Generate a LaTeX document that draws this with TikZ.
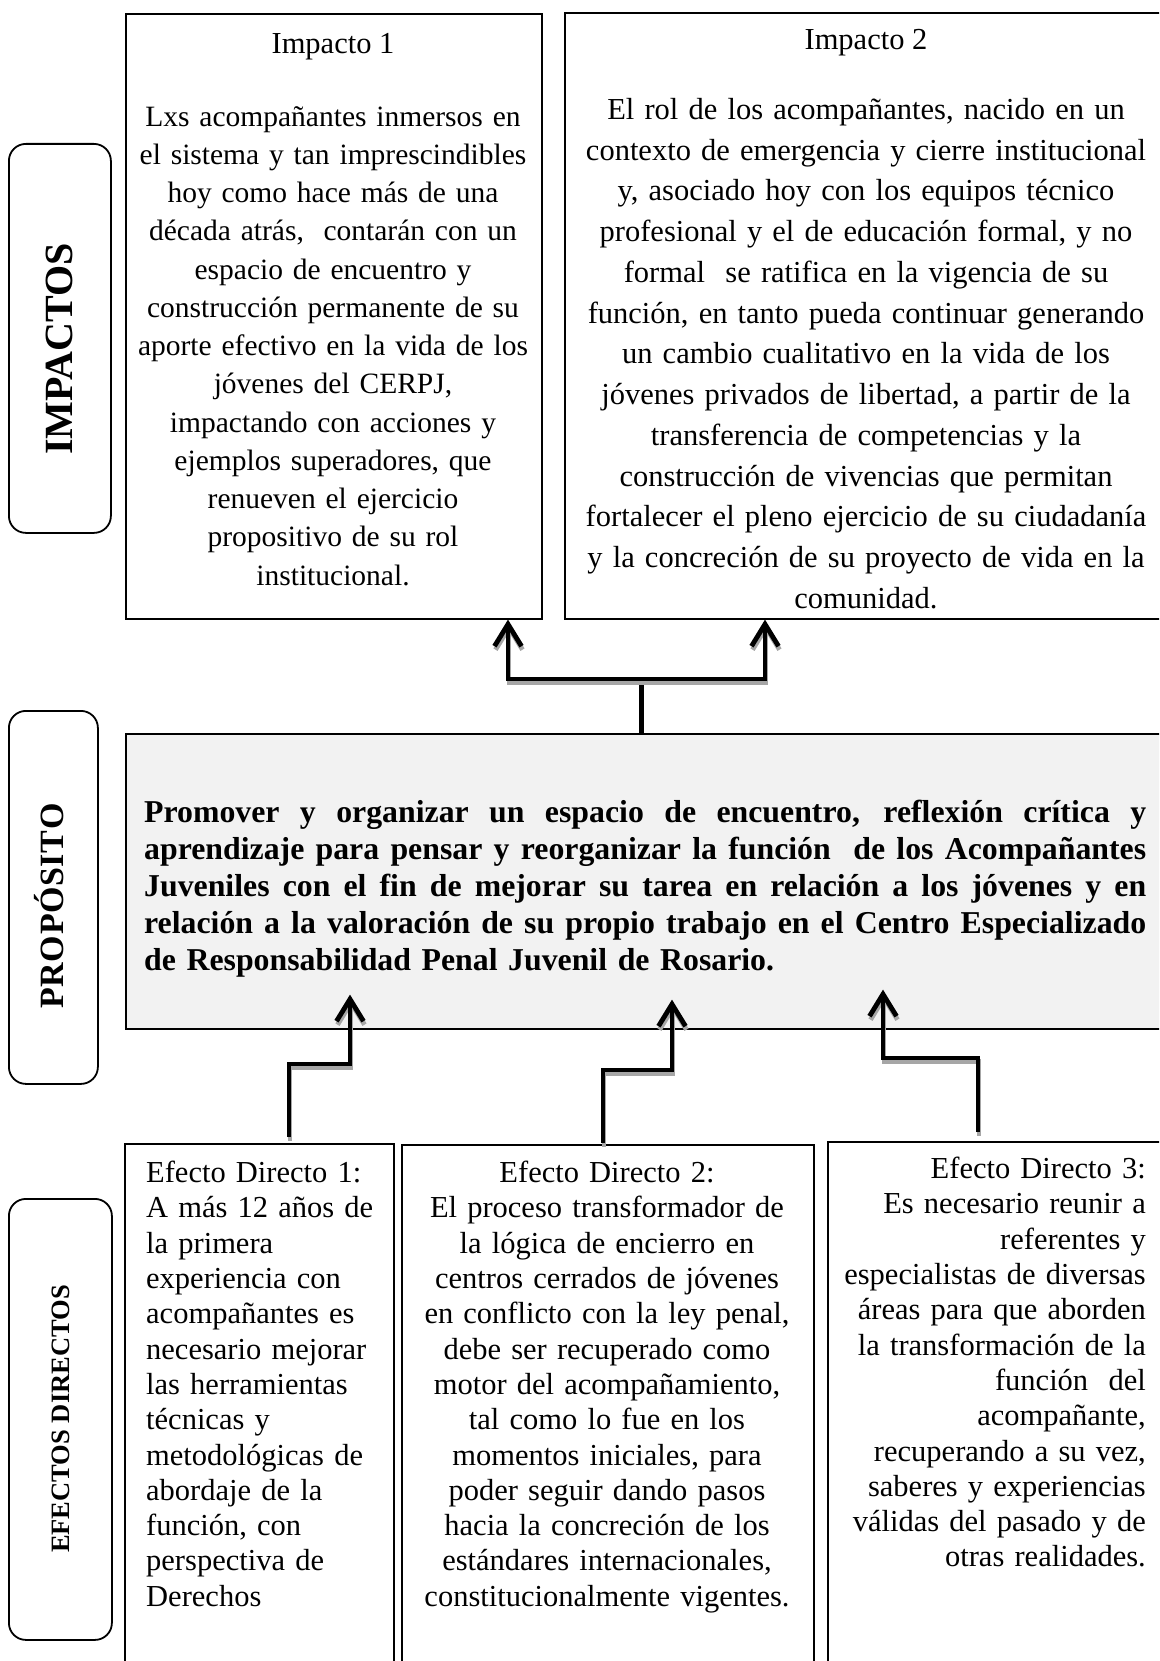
\documentclass[tikz,border=0pt]{standalone}
\usepackage{fontspec}
\setmainfont{Liberation Serif}
\usetikzlibrary{arrows.meta,calc}
\newcommand\shadowed[1]{%
  \begin{scope}[transform canvas={xshift=1pt,yshift=-3.5pt}]\draw[connsh] #1;\end{scope}
  \draw[conn] #1;}
\newcommand\jline[1]{\leavevmode\hbox to 1002pt{\spaceskip=0.25em plus 1em\relax #1}}
\begin{document}
\begin{tikzpicture}[x=1pt,y=-1pt,
  box/.style={draw=black,line width=1.6pt,rectangle,inner sep=0pt,anchor=north west},
  side/.style={draw=black,line width=1.8pt,rounded corners=17pt,rectangle,inner sep=0pt,anchor=north west},
  sidelbl/.style={rotate=90,inner sep=0pt,anchor=center},
  txt/.style={inner sep=0pt},
  conn/.style={line width=4.8pt,black,>={Straight Barb[length=22pt,width=27pt]}},
  connsh/.style={line width=4.8pt,black!35,>={Straight Barb[length=22pt,width=27pt]}},
  stem/.style={line width=5pt,black}
]
\useasboundingbox (0,0) rectangle (1159,1661);
\fill[white] (0,0) rectangle (1159,1661);
\clip (0,0) rectangle (1159,1661);

% boxes
\node[box,minimum width=416pt,minimum height=605pt] (imp1) at (125,13) {};
\node[box,minimum width=608pt,minimum height=606pt] (imp2) at (564,12) {};
\node[box,fill=black!5,minimum width=1047pt,minimum height=295pt] (prop) at (125,733) {};
\node[box,minimum width=269pt,minimum height=560pt] (ed1) at (124,1143) {};
\node[box,minimum width=412pt,minimum height=560pt] (ed2) at (401,1144) {};
\node[box,minimum width=345pt,minimum height=560pt] (ed3) at (827,1141) {};

% side labels
\node[side,minimum width=102pt,minimum height=389pt] (s1) at (8,143) {};
\node[side,minimum width=89pt,minimum height=373pt] (s2) at (8,710) {};
\node[side,minimum width=103pt,minimum height=441pt] (s3) at (8,1198) {};
\node[sidelbl,font=\bfseries\fontsize{40}{46}\selectfont] (l1) at (59,349) {IMPACTOS};
\node[sidelbl,font=\bfseries\fontsize{34}{40}\selectfont] (l2) at (49,906)
  {P\kern0.6pt R\kern0.6pt O\kern0.6pt P\kern0.6pt Ó\kern0.6pt S\kern0.6pt I\kern0.6pt T\kern0.6pt O};
\node[sidelbl,font=\bfseries\fontsize{26.5}{32}\selectfont] (l3) at (61,1419) {EFECTOS DIRECTOS};

% texts
\node[txt,anchor=north,font=\fontsize{30.5}{36}\selectfont] (imp1t) at (333,33) {Impacto 1};
\node[txt,anchor=north,align=center,text width=405pt,font=\fontsize{29.5}{38.25}\selectfont] (imp1b) at (333,106)
{Lxs acompañantes inmersos en\\
el sistema y tan imprescindibles\\
hoy como hace más de una\\
década atrás,\ \ contarán con un\\
espacio de encuentro y\\
construcción permanente de su\\
aporte efectivo en la vida de los\\
jóvenes del CERPJ,\\
impactando con acciones y\\
ejemplos superadores, que\\
renueven el ejercicio\\
propositivo de su rol\\
institucional.};

\node[txt,anchor=north,font=\fontsize{30.5}{36}\selectfont] (imp2t) at (866,29) {Impacto 2};
\node[txt,anchor=north,align=center,text width=595pt,font=\fontsize{30.5}{40.75}\selectfont] (imp2b) at (866,98)
{El rol de los acompañantes, nacido en un\\
contexto de emergencia y cierre institucional\\
y, asociado hoy con los equipos técnico\\
profesional y el de educación formal, y no\\
formal\ \ se ratifica en la vigencia de su\\
función, en tanto pueda continuar generando\\
un cambio cualitativo en la vida de los\\
jóvenes privados de libertad, a partir de la\\
transferencia de competencias y la\\
construcción de vivencias que permitan\\
fortalecer el pleno ejercicio de su ciudadanía\\
y la concreción de su proyecto de vida en la\\
comunidad.};

\node[txt,anchor=north west,align=left,text width=1002pt,font=\bfseries\fontsize{31.8}{37}\selectfont] (propt) at (144,800)
{\jline{Promover y organizar un espacio de encuentro, reflexión crítica y}\\
\jline{aprendizaje para pensar y reorganizar la función\ \ de los Acompañantes}\\
\jline{Juveniles con el fin de mejorar su tarea en relación a los jóvenes y en}\\
\jline{relación a la valoración de su propio trabajo en el Centro Especializado}\\
de Responsabilidad Penal Juvenil de Rosario.};

\node[txt,anchor=north west,align=left,text width=245pt,font=\fontsize{30.5}{35.3}\selectfont] (ed1t) at (146,1161)
{Efecto Directo 1:\\
A más 12 años de\\
la primera\\
experiencia con\\
acompañantes es\\
necesario mejorar\\
las herramientas\\
técnicas y\\
metodológicas de\\
abordaje de la\\
función, con\\
perspectiva de\\
Derechos};

\node[txt,anchor=north,align=center,text width=405pt,font=\fontsize{30.5}{35.3}\selectfont] (ed2t) at (607,1161)
{Efecto Directo 2:\\
El proceso transformador de\\
la lógica de encierro en\\
centros cerrados de jóvenes\\
en conflicto con la ley penal,\\
debe ser recuperado como\\
motor del acompañamiento,\\
tal como lo fue en los\\
momentos iniciales, para\\
poder seguir dando pasos\\
hacia la concreción de los\\
estándares internacionales,\\
constitucionalmente vigentes.};

\node[txt,anchor=north east,align=right,text width=320pt,font=\fontsize{30.5}{35.3}\selectfont] (ed3t) at (1146,1157)
{Efecto Directo 3:\\
Es necesario reunir a\\
referentes y\\
especialistas de diversas\\
áreas para que aborden\\
la transformación de la\\
función\ \ del\\
acompañante,\\
recuperando a su vez,\\
saberes y experiencias\\
válidas del pasado y de\\
otras realidades.};

% connector coordinates
\coordinate (j) at ([xshift=516pt,yshift=54pt]prop.north west);
\coordinate (a1) at ([xshift=383pt]imp1.south west);
\coordinate (a2) at ([xshift=201pt]imp2.south west);
\coordinate (e1) at ([xshift=165pt,yshift=6pt]ed1.north west);
\coordinate (t1) at ([xshift=225pt,yshift=35pt]prop.south west);
\coordinate (e2) at ([xshift=202pt,yshift=1pt]ed2.north west);
\coordinate (t2) at ([xshift=547pt,yshift=30pt]prop.south west);
\coordinate (e3) at ([xshift=151pt,yshift=9pt]ed3.north west);
\coordinate (t3) at ([xshift=758pt,yshift=40pt]prop.south west);

% connectors
\draw[stem] (j |- prop.north) -- (j);
\shadowed{[<->] (a1) |- (j) -| (a2)}
\shadowed{[->] (e1) -- ++(0,-73) -| (t1)}
\shadowed{[->] (e2) -- ++(0,-73) -| (t2)}
\shadowed{[->] (e3) -- ++(0,-74) -| (t3)}
\end{tikzpicture}
\end{document}
